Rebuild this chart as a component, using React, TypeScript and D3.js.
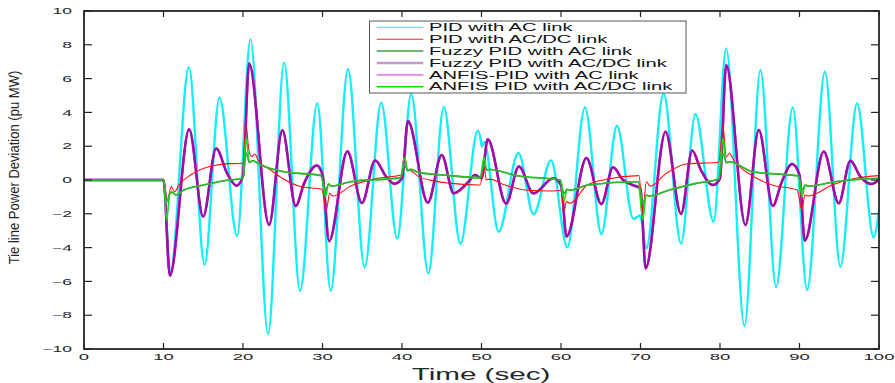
import React from 'react';
import * as d3 from 'd3';

type P = [number, number];

const xTicks = [0, 10, 20, 30, 40, 50, 60, 70, 80, 90, 100];
const yTicks = [-10, -8, -6, -4, -2, 0, 2, 4, 6, 8, 10];
const xLabel = 'Time (sec)';
const yLabel = 'Tie line Power Deviation (pu MW)';
const legendLabels = [
  'PID with AC link',
  'PID with AC/DC link',
  'Fuzzy PID with AC link',
  'Fuzzy PID with AC/DC link',
  'ANFIS-PID with AC link',
  'ANFIS PID with AC/DC link',
];

const pidAC: P[] = [
  [0, 0], [10, 0], [10.85, -5.55], [13.19, 6.67], [15.16, -5.03], [17.04, 4.87], [19.26, -3.31],
  [20.94, 8.32], [23.16, -9.11], [25.17, 6.94], [27.18, -6.55], [29.35, 4.54], [31.03, -6.55],
  [33.21, 6.55], [35.3, -5.17], [37.39, 4.58], [39.4, -3.47], [41.16, 5.09], [43.32, -5.52],
  [45.25, 4.32], [47.34, -3.77], [49.54, 2.92], [49.9, 2.4], [50.05, 1.97], [50.35, 2.25],
  [52.14, -3.06], [54.65, 1.6], [56.55, -2.03], [58.75, 1.16], [60.8, -3.98], [63.02, 4.3],
  [65.08, -3.2], [67.04, 3.2], [69.1, -2.3], [69.95, -2.1], [70.73, -4.04], [72.9, 5.13],
  [75.1, -3.75], [76.9, 3.9], [79.2, -2.47], [80.78, 7.79], [83.08, -8.64], [85.09, 6.51],
  [87.06, -6.33], [89.15, 4.3], [90.96, -6.51], [93.2, 6.41], [95.14, -5.13], [97.24, 4.54],
  [99.33, -3.39], [100, -1.8],
];

const pidACDC: P[] = [
  [0, 0], [10, 0], [10.5, -1.18], [10.97, -0.39], [11.39, -0.69], [11.93, -0.3], [13.4, 0.3],
  [15.08, 0.69], [16.75, 0.89], [18.5, 0.97], [20, 0.99], [20.39, 3.25], [20.73, 1.78],
  [21.06, 1.38], [21.48, 1.54], [21.9, 1.18], [23.49, 0.59], [25.16, 0.04], [27.26, -0.39],
  [29.9, -0.55], [30.5, -1.74], [30.9, -0.79], [31.3, -0.95], [33.54, -0.36], [36.89, 0.1],
  [39.9, 0.3], [40.33, 1.38], [40.7, 0.59], [41.1, 0.55], [42.1, 0.2], [44, -0.05],
  [46.27, -0.2], [49.83, -0.3], [50.33, 0.89], [50.6, 0.0], [51, 0.05], [52.97, -0.3],
  [55.5, -0.59], [58.8, -0.65], [59.96, -0.62], [60.39, -1.78], [60.7, -1.28], [61.1, -1.38],
  [63.3, -0.3], [65.7, 0.04], [69.8, 0.26], [70.3, -1.87], [70.73, -0.1], [71.2, -0.36],
  [73.24, 0.39], [75.75, 0.95], [79.85, 1.05], [80.36, 3.25], [80.78, 1.38], [81.2, 1.58],
  [81.7, 1.2], [84.05, 0.25], [86.6, -0.3], [89.7, -0.59], [90.32, -1.78], [90.66, -0.89],
  [91.1, -0.95], [94.1, -0.3], [97.03, 0.1], [100, 0.26],
];

const fuzzyAC: P[] = [
  [0, 0], [10, 0], [10.39, -1.3], [10.8, -0.79], [11.1, -0.72], [11.52, -0.89], [12.56, -0.59],
  [15.08, -0.3], [17.6, -0.04], [20, 0.1], [20.39, 1.6], [20.8, 1.03], [21.2, 1.14], [22.24, 0.89],
  [25.16, 0.49], [29.8, 0.26], [30.4, -0.6], [30.75, -0.24], [31.1, -0.36], [33.54, -0.1],
  [39.8, 0.14], [40.33, 0.95], [40.7, 0.55], [41.1, 0.63], [42.08, 0.45], [45.5, 0.28],
  [49.83, 0.14], [50.33, 0.95], [50.65, 0.59], [51, 0.62], [54.65, 0.24], [59.9, 0],
  [60.39, -0.8], [60.75, -0.55], [61.1, -0.6], [63.43, -0.3], [69.7, -0.1], [70.3, -1.4],
  [70.7, -0.89], [71.1, -0.95], [73.65, -0.59], [77, -0.2], [79.85, 0.06], [80.36, 1.6],
  [80.78, 1.03], [81.2, 1.08], [84.1, 0.49], [89.9, 0.24], [90.32, -0.6], [90.7, -0.3],
  [91.1, -0.36], [94.5, -0.1], [100, 0.1],
];

const fuzzyACDC: P[] = [
  [0, 0], [10, 0], [10.8, -5.66], [13.23, 3.0], [14.99, -2.17], [16.62, 1.87], [18.0, 0.39],
  [19.18, -0.34], [20, 0.25], [20.77, 6.9], [23.28, -2.66], [24.95, 2.94], [26.63, -1.54],
  [27.68, -0.2], [29.3, 0.86], [30, 0.3], [30.83, -3.62], [33.13, 1.7], [34.96, -1.36],
  [36.62, 1.16], [38.0, 0.2], [39.05, -0.22], [40, 0.1], [40.74, 3.49], [43.25, -1.34],
  [45.0, 1.48], [46.5, -0.79], [48.37, -0.1], [49.2, 0.3], [50, 0.1], [50.78, 2.41],
  [53.1, -1.4], [54.7, 0.8], [56.53, -0.79], [59.04, 0.1], [60, -0.3], [60.7, -3.35],
  [63.2, 1.3], [65.08, -1.42], [66.54, 0.75], [67.8, 0.0], [69.05, -0.3], [70, -0.5],
  [70.64, -5.23], [73.15, 2.86], [75.1, -2.01], [76.5, 1.74], [77.6, 0.59], [79.1, -0.3],
  [80, 0.1], [80.78, 6.8], [83.2, -2.66], [84.88, 2.96], [86.64, -1.54], [87.7, -0.2],
  [89.07, 0.95], [90, 0.3], [90.66, -3.59], [93.05, 1.68], [94.94, -1.38], [96.4, 1.14],
  [97.65, 0.2], [99.04, -0.24], [100, 0.04],
];

const anfisAC: P[] = fuzzyACDC;

const anfisACDC: P[] = [
  [0, 0], [10, 0], [10.39, -2.39], [10.8, -0.79], [11.1, -0.72], [11.52, -0.89], [12.56, -0.59],
  [15.08, -0.3], [17.6, -0.04], [20, 0.1], [20.39, 2.5], [20.8, 1.03], [21.2, 1.14], [22.24, 0.89],
  [25.16, 0.49], [29.8, 0.26], [30.4, -0.99], [30.75, -0.24], [31.1, -0.36], [33.54, -0.1],
  [39.8, 0.14], [40.33, 1.34], [40.7, 0.55], [41.1, 0.63], [42.08, 0.45], [45.5, 0.28],
  [49.83, 0.14], [50.33, 1.34], [50.65, 0.59], [51, 0.62], [54.65, 0.24], [59.9, 0],
  [60.39, -1.22], [60.75, -0.55], [61.1, -0.6], [63.43, -0.3], [69.7, -0.1], [70.3, -2.37],
  [70.7, -0.89], [71.1, -0.95], [73.65, -0.59], [77, -0.2], [79.85, 0.06], [80.36, 2.47],
  [80.78, 1.03], [81.2, 1.08], [84.1, 0.49], [89.9, 0.24], [90.32, -0.99], [90.7, -0.3],
  [91.1, -0.36], [94.5, -0.1], [100, 0.1],
];

const FONT = '"Liberation Sans", Arial, Helvetica, sans-serif';
const AXIS = '#262626';

export default function App() {
  const L = 84, R = 879, T = 11, B = 349;
  const x = d3.scaleLinear().domain([0, 100]).range([L, R]);
  const y = d3.scaleLinear().domain([-10, 10]).range([B, T]);
  const line = d3.line<P>().x(d => x(d[0])).y(d => y(d[1])).curve(d3.curveMonotoneX);
  const fmt = d3.format('d');

  const series = [
    { id: 'pidAC', data: pidAC, color: '#14eef5', width: 2.4, lg: 0, lgColor: '#14eef5', lgWidth: 1.1 },
    { id: 'anfisAC', data: anfisAC, color: '#dd44dd', width: 2.4, lg: 4, lgColor: '#e050e0', lgWidth: 1.3 },
    { id: 'fuzzyACDC', data: fuzzyACDC, color: '#9c0ea8', width: 2.5, lg: 3, lgColor: '#c49ad0', lgWidth: 2.6 },
    { id: 'pidACDC', data: pidACDC, color: '#ff1010', width: 1.1, lg: 1, lgColor: '#ff2020', lgWidth: 1.1 },
    { id: 'anfisACDC', data: anfisACDC, color: '#10e010', width: 1.6, lg: 5, lgColor: '#10e010', lgWidth: 1.5 },
    { id: 'fuzzyAC', data: fuzzyAC, color: '#38b038', width: 1.6, lg: 2, lgColor: '#3a9e3a', lgWidth: 1.5 },
  ];
  const legendOrder = [...series].sort((a, b) => a.lg - b.lg);

  const lgX = 369.5, lgY = 21, lgW = 316.5, lgH = 72;
  const rowY = (i: number) => 27.3 + i * 11.9;

  return (
    <svg width={895} height={383} style={{ position: 'absolute', left: 0, top: 0, background: '#fff' }}>
      <rect x={0} y={0} width={895} height={383} fill="#fff" />
      <defs>
        <clipPath id="plotclip">
          <rect x={L} y={T} width={R - L} height={B - T} />
        </clipPath>
      </defs>
      <g clipPath="url(#plotclip)">
        {series.map(s => (
          <path key={s.id} d={line(s.data) || ''} fill="none" stroke={s.color} strokeWidth={s.width}
            strokeLinejoin="round" strokeLinecap="round" />
        ))}
      </g>
      <rect x={L} y={T} width={R - L} height={B - T} fill="none" stroke={AXIS} strokeWidth={1.8} />
      {xTicks.map(t => (
        <g key={'xt' + t}>
          <line x1={x(t)} x2={x(t)} y1={B} y2={B - 6} stroke={AXIS} strokeWidth={1.2} />
          <line x1={x(t)} x2={x(t)} y1={T} y2={T + 6} stroke={AXIS} strokeWidth={1.2} />
          <text transform={`translate(${x(t)},${360}) scale(1.95,1)`} textAnchor="middle"
            fontFamily={FONT} fontSize={9.5} fill={AXIS}>{fmt(t)}</text>
        </g>
      ))}
      {yTicks.map(v => (
        <g key={'yt' + v}>
          <line x1={L} x2={L + 8} y1={y(v)} y2={y(v)} stroke={AXIS} strokeWidth={1.2} />
          <line x1={R} x2={R - 8} y1={y(v)} y2={y(v)} stroke={AXIS} strokeWidth={1.2} />
          <text transform={`translate(${72},${y(v) + 3.2}) scale(1.95,1)`} textAnchor="end"
            fontFamily={FONT} fontSize={9} fill={AXIS}>{fmt(v)}</text>
        </g>
      ))}
      <text transform={`translate(${481},${380}) scale(1.85,1)`} textAnchor="middle"
        fontFamily={FONT} fontSize={16} fill={AXIS}>{xLabel}</text>
      <text transform={`translate(${18.5},${167.5}) rotate(-90) scale(0.9,1)`} textAnchor="middle"
        fontFamily={FONT} fontSize={14.5} fill={AXIS}>{yLabel}</text>
      <rect x={lgX} y={lgY} width={lgW} height={lgH} fill="#fff" stroke="#555" strokeWidth={1} />
      {legendOrder.map((s, i) => (
        <g key={'lg' + s.id}>
          <line x1={376.7} x2={423.3} y1={rowY(i)} y2={rowY(i)} stroke={s.lgColor} strokeWidth={s.lgWidth} />
          <text transform={`translate(${429},${rowY(i) + 3.6}) scale(2.02,1)`} fontFamily={FONT}
            fontSize={10} fill="#111">{legendLabels[i]}</text>
        </g>
      ))}
    </svg>
  );
}
